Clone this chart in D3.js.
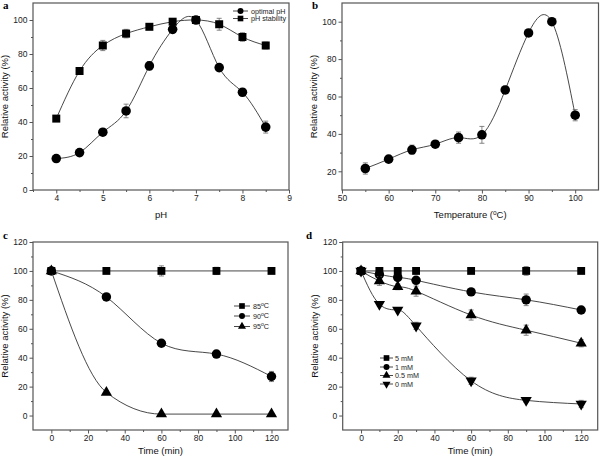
<!DOCTYPE html>
<html>
<head>
<meta charset="utf-8">
<script src="https://cdn.jsdelivr.net/npm/d3@7"></script>
<style>
  body { margin: 0; background: #fff; }
  svg { display: block; font-family: "Liberation Sans", Arial, sans-serif; }
</style>
</head>
<body>
<svg id="chart" width="600" height="460"></svg>
<script>
// a: pH
const phValues = [4, 4.5, 5, 5.5, 6, 6.5, 7, 7.5, 8, 8.5];
const optimalPh = [18.5, 22, 34, 46.5, 73, 94.5, 100, 72, 57.5, 37];
const optimalPhErr = [1.5, 1, 1, 4, 2.5, 2, 1, 1, 2, 3.5];
const phStability = [42, 70, 85, 92, 96, 99, 100, 97.5, 90, 85];
const phStabilityErr = [1.5, 1, 3, 2.5, 1, 1, 1, 3.5, 2.5, 2];

// b: temperature
const temperatures = [55, 60, 65, 70, 75, 80, 85, 90, 95, 100];
const tempActivity = [21.5, 26.5, 31.5, 34.5, 38, 39.5, 63.5, 94, 100, 50];
const tempErr = [3, 1.5, 2.5, 1.5, 3, 4.5, 2, 1, 1.5, 3];

// c: thermostability
const thermoTimes = [0, 30, 60, 90, 120];
const at85 = [100, 100, 100, 100, 100];
const at85Err = [1, 1.5, 3.5, 2.5, 1.5];
const at90 = [100, 82, 50, 42.5, 27];
const at90Err = [0, 2, 1, 1.5, 3.5];
const at95 = [100, 16, 1, 1, 1];
const at95Err = [0, 1, 0.5, 0.5, 0.5];

// d: calcium
const calciumTimes = [0, 10, 20, 30, 60, 90, 120];
const mM5 = [100, 100, 100, 100, 100, 100, 100];
const mM5Err = [0, 1, 2, 2, 1, 3, 1.5];
const mM1 = [100, 97.5, 95.5, 93.5, 85.5, 80, 73];
const mM1Err = [0, 1, 2, 2, 1.5, 4, 1];
const mM05 = [100, 93, 89, 86, 69.5, 59, 50];
const mM05Err = [0, 3, 2, 3.5, 3.5, 3.5, 2.5];
const mM0 = [100, 77, 73, 62, 24, 10.5, 8];
const mM0Err = [0, 1.5, 1, 2.5, 2.5, 1.5, 2.5];

// ticks
const phTicks = [4, 5, 6, 7, 8, 9];
const phMinor = [3.5, 4.5, 5.5, 6.5, 7.5, 8.5];
const tempTicks = [50, 60, 70, 80, 90, 100];
const tempMinor = [55, 65, 75, 85, 95];
const timeTicks = [0, 20, 40, 60, 80, 100, 120];
const timeMinor = [10, 30, 50, 70, 90, 110];
const actTicksA = [0, 20, 40, 60, 80, 100];
const actMinorA = [10, 30, 50, 70, 90];
const actTicksB = [20, 40, 60, 80, 100];
const actMinorB = [30, 50, 70, 90];
const actTicksCD = [0, 20, 40, 60, 80, 100, 120];
const actMinorCD = [10, 30, 50, 70, 90, 110];

const svg = d3.select("#chart");
const axisColor = "#555";

const downTriangle = {
  draw(ctx, size) {
    const y = -Math.sqrt(size / (Math.sqrt(3) * 3));
    ctx.moveTo(0, -y * 2);
    ctx.lineTo(-Math.sqrt(3) * y, y);
    ctx.lineTo(Math.sqrt(3) * y, y);
    ctx.closePath();
  }
};

function zip(xs, ys, es) {
  return xs.map((x, i) => ({x: x, y: ys[i], e: es[i]}));
}

const panels = [
  {
    letter: "a", left: 33, top: 3, width: 256, height: 187,
    xdomain: [3.5, 9], ydomain: [0, 110],
    xticks: phTicks, xminor: phMinor, yticks: actTicksA, yminor: actMinorA,
    xtitle: "pH", xtitleDy: 25,
    letterPos: [3, 9],
    series: [
      {name: "optimal pH", symbol: d3.symbolCircle, size: 72, legendSize: 28, curve: d3.curveNatural,
       data: zip(phValues, optimalPh, optimalPhErr)},
      {name: "pH stability", symbol: d3.symbolSquare, size: 64, legendSize: 32, curve: d3.curveNatural,
       data: zip(phValues, phStability, phStabilityErr)}
    ],
    legend: {x1: 233, x2: 248, tx: 251, ys: [11, 18.5]}
  },
  {
    letter: "b", left: 342, top: 3, width: 256.5, height: 187,
    xdomain: [50, 105], ydomain: [10, 110],
    xticks: tempTicks, xminor: tempMinor, yticks: actTicksB, yminor: actMinorB,
    xtitle: "Temperature (", xtitleSup: true, xtitleDy: 25,
    letterPos: [312, 9],
    series: [
      {symbol: d3.symbolCircle, size: 72, curve: d3.curveNatural,
       data: zip(temperatures, tempActivity, tempErr)}
    ]
  },
  {
    letter: "c", left: 33, top: 242, width: 255, height: 188,
    xdomain: [-10, 129], ydomain: [-10, 120],
    xticks: timeTicks, xminor: timeMinor, yticks: actTicksCD, yminor: actMinorCD,
    xtitle: "Time (min)", xtitleDy: 21,
    letterPos: [3, 239],
    series: [
      {name: "85", deg: true, symbol: d3.symbolSquare, size: 62, legendSize: 32, curve: d3.curveLinear,
       data: zip(thermoTimes, at85, at85Err)},
      {name: "90", deg: true, symbol: d3.symbolCircle, size: 70, legendSize: 28, curve: d3.curveNatural,
       data: zip(thermoTimes, at90, at90Err)},
      {name: "95", deg: true, symbol: d3.symbolTriangle, size: 55, legendSize: 28, curve: d3.curveMonotoneX,
       data: zip(thermoTimes, at95, at95Err)}
    ],
    legend: {x1: 234, x2: 250, tx: 253, ys: [306, 316, 326.5]}
  },
  {
    letter: "d", left: 342.7, top: 242, width: 255, height: 188,
    xdomain: [-10, 129], ydomain: [-10, 120],
    xticks: timeTicks, xminor: timeMinor, yticks: actTicksCD, yminor: actMinorCD,
    xtitle: "Time (min)", xtitleDy: 21,
    letterPos: [306, 239],
    series: [
      {name: "5 mM", symbol: d3.symbolSquare, size: 62, legendSize: 32, curve: d3.curveLinear,
       data: zip(calciumTimes, mM5, mM5Err)},
      {name: "1 mM", symbol: d3.symbolCircle, size: 70, legendSize: 28, curve: d3.curveNatural,
       data: zip(calciumTimes, mM1, mM1Err)},
      {name: "0.5 mM", symbol: d3.symbolTriangle, size: 55, legendSize: 28, curve: d3.curveNatural,
       data: zip(calciumTimes, mM05, mM05Err)},
      {name: "0 mM", symbol: downTriangle, size: 55, legendSize: 28, curve: d3.curveNatural,
       data: zip(calciumTimes, mM0, mM0Err)}
    ],
    legend: {x1: 380, x2: 393, tx: 395, ys: [358, 367, 375.5, 384]}
  }
];

panels.forEach(drawPanel);

function drawPanel(p) {
  const x = d3.scaleLinear().domain(p.xdomain).range([0, p.width]);
  const y = d3.scaleLinear().domain(p.ydomain).range([p.height, 0]);
  const fmt = d3.format("~g");

  const g = svg.append("g")
    .attr("transform", "translate(" + p.left + "," + p.top + ")");

  // ticks
  g.append("g")
    .attr("transform", "translate(0," + p.height + ")")
    .call(d3.axisBottom(x).tickValues(p.xticks).tickFormat(fmt).tickSize(3.5).tickPadding(1.5));
  g.append("g")
    .attr("transform", "translate(0," + p.height + ")")
    .call(d3.axisBottom(x).tickValues(p.xminor).tickSize(2).tickFormat(""));
  g.append("g")
    .call(d3.axisLeft(y).tickValues(p.yticks).tickFormat(fmt).tickSize(3.5).tickPadding(2));
  g.append("g")
    .call(d3.axisLeft(y).tickValues(p.yminor).tickSize(2).tickFormat(""));

  g.selectAll(".domain").remove();
  g.selectAll(".tick line").attr("stroke", axisColor).attr("stroke-width", 1);
  g.selectAll(".tick text")
    .attr("fill", "#222")
    .attr("font-size", 8.5)
    .attr("font-family", "Liberation Sans, Arial, sans-serif");

  // frame
  g.append("rect")
    .attr("width", p.width)
    .attr("height", p.height)
    .attr("fill", "none")
    .attr("stroke", axisColor)
    .attr("stroke-width", 1.2);

  // series
  p.series.forEach(function (s) {
    const line = d3.line()
      .x(d => x(d.x))
      .y(d => y(d.y))
      .curve(s.curve);

    g.append("path")
      .attr("d", line(s.data))
      .attr("fill", "none")
      .attr("stroke", "#333")
      .attr("stroke-width", 0.9);

    const err = g.append("g").attr("stroke", "#666").attr("stroke-width", 0.8);
    s.data.filter(d => d.e > 0).forEach(function (d) {
      const cx = x(d.x);
      err.append("line")
        .attr("x1", cx).attr("x2", cx)
        .attr("y1", y(d.y - d.e)).attr("y2", y(d.y + d.e));
      [d.y - d.e, d.y + d.e].forEach(function (v) {
        err.append("line")
          .attr("x1", cx - 2.5).attr("x2", cx + 2.5)
          .attr("y1", y(v)).attr("y2", y(v));
      });
    });

    g.selectAll(null)
      .data(s.data)
      .join("path")
      .attr("transform", d => "translate(" + x(d.x) + "," + y(d.y) + ")")
      .attr("d", d3.symbol(s.symbol, s.size))
      .attr("fill", "#000");
  });

  // legend
  if (p.legend) {
    const L = p.legend;
    p.series.forEach(function (s, i) {
      const ly = L.ys[i];
      svg.append("line")
        .attr("x1", L.x1).attr("x2", L.x2)
        .attr("y1", ly).attr("y2", ly)
        .attr("stroke", "#333").attr("stroke-width", 0.9);
      svg.append("path")
        .attr("transform", "translate(" + ((L.x1 + L.x2) / 2) + "," + ly + ")")
        .attr("d", d3.symbol(s.symbol, s.legendSize))
        .attr("fill", "#000");
      const t = svg.append("text")
        .attr("x", L.tx).attr("y", ly)
        .attr("dy", "0.35em")
        .attr("font-size", 7.2)
        .attr("fill", "#222")
        .text(s.name);
      if (s.deg) {
        t.append("tspan").attr("font-size", 5).attr("dy", "-0.6em").text("o");
        t.append("tspan").attr("dy", "0.4em").text("C");
      }
    });
  }

  // axis titles
  const xt = svg.append("text")
    .attr("x", p.left + p.width / 2)
    .attr("y", p.top + p.height + p.xtitleDy)
    .attr("dy", "0.35em")
    .attr("text-anchor", "middle")
    .attr("font-size", 9.5)
    .attr("fill", "#111")
    .text(p.xtitle);
  if (p.xtitleSup) {
    xt.append("tspan").attr("font-size", 6.5).attr("dy", "-0.55em").text("o");
    xt.append("tspan").attr("dy", "0.38em").text("C)");
  }

  svg.append("text")
    .attr("transform", "translate(" + (p.left - 28) + "," + (p.top + p.height / 2) + ") rotate(-90)")
    .attr("dy", "0.35em")
    .attr("text-anchor", "middle")
    .attr("font-size", 9.5)
    .attr("fill", "#111")
    .text("Relative activity (%)");

  svg.append("text")
    .attr("x", p.letterPos[0])
    .attr("y", p.letterPos[1])
    .attr("font-family", "Liberation Serif, Times New Roman, serif")
    .attr("font-weight", "bold")
    .attr("font-size", 11)
    .attr("fill", "#000")
    .text(p.letter);
}
</script>
</body>
</html>
